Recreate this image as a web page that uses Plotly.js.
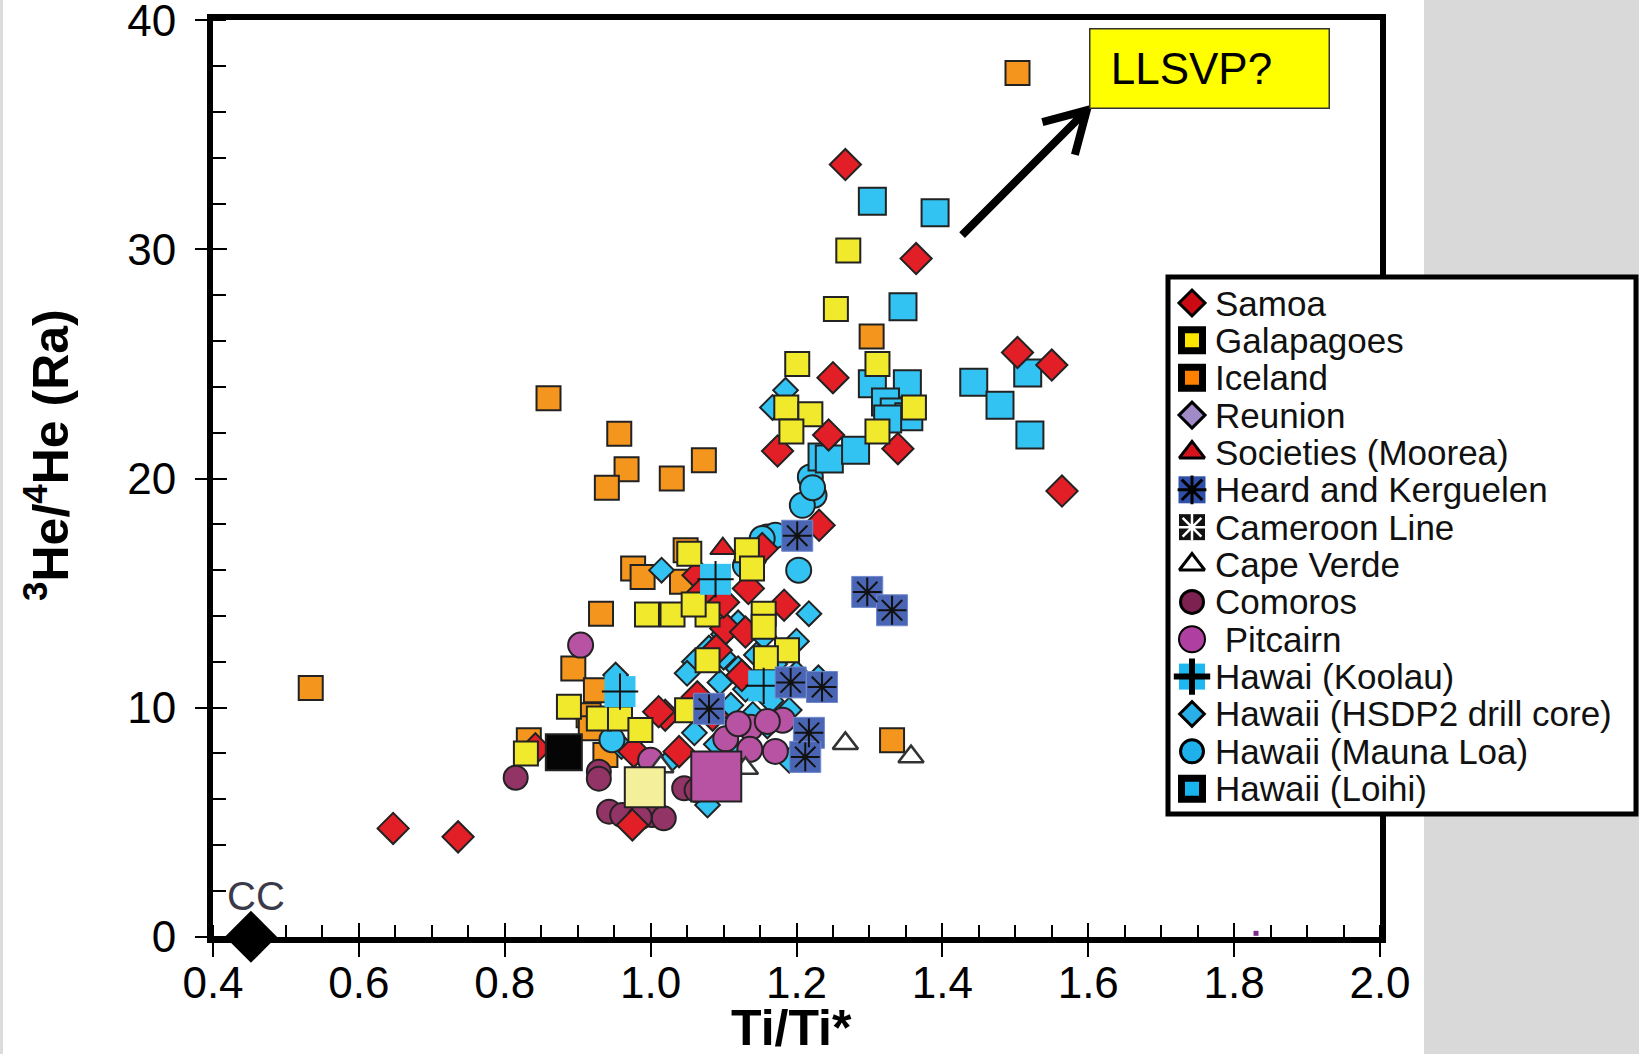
<!DOCTYPE html>
<html><head><meta charset="utf-8">
<script src="https://cdn.plot.ly/plotly-3.0.1.min.js"></script>
<style>html,body{margin:0;padding:0;background:#fff;}#chart{width:1639px;height:1054px;}</style>
</head><body><div id="chart"></div>
<script>
// ---------- DATA (Ti/Ti*, 3He/4He in Ra) ----------
const samoaX = [0.647,0.736,1.267,1.364,1.503,1.550,1.564,1.250,1.244,1.174,1.339,1.231,1.153,1.065,1.134,1.183,1.103,1.130,1.064,1.039,1.020,1.011,1.085,0.977,0.975,0.842,1.125,1.090,1.070,1.100];
const samoaY = [4.73,4.36,33.7,29.6,25.5,24.95,19.45,24.4,21.9,21.2,21.3,17.96,16.94,15.78,15.2,14.47,13.45,13.3,10.47,8.08,9.67,9.82,9.67,8.08,4.88,8.2,11.4,12.5,15.0,14.6];
const galapX = [1.271,1.254,1.201,1.311,1.186,1.219,1.193,1.311,1.361,1.053,1.132,1.139,0.995,1.030,1.078,1.059,1.155,1.155,1.078,1.187,1.158,0.888,0.929,0.958,0.986,0.829,1.050];
const galapY = [29.95,27.4,25.0,25.0,23.1,22.8,22.05,22.05,23.1,16.72,16.87,16.07,14.06,14.06,14.06,14.5,14.1,13.53,12.07,12.5,12.15,10.04,9.53,9.53,9.02,8.0,9.89];
const icelandX = [0.534,0.860,0.957,0.967,0.940,1.029,1.073,1.303,1.503,1.331,0.932,0.894,0.925,0.976,0.989,1.048,1.043,0.915,0.918,0.938,0.833];
const icelandY = [10.86,23.5,21.95,20.4,19.6,20.0,20.8,26.2,37.7,8.58,14.1,11.71,10.76,16.07,15.7,16.87,15.49,9.67,9.1,7.93,8.58];
const reunionX = [1.83];
const reunionY = [0.15];
const societiesX = [1.099];
const societiesY = [16.94];
const heardX = [1.201,1.297,1.331,1.192,1.235,1.080,1.217,1.212];
const heardY = [17.5,15.05,14.25,11.1,10.9,9.95,8.9,7.85];
const capeVerdeX = [1.014,1.130,1.267,1.357];
const capeVerdeY = [7.42,7.35,8.44,7.86];
const comorosX = [0.815,0.929,0.929,0.943,0.961,1.002,1.018,1.046,1.063,0.985];
const comorosY = [6.94,7.2,6.9,5.46,5.31,5.31,5.17,6.48,6.4,5.2];
const pitcairnX = [0.904,1.103,1.137,1.136,1.171,1.181,1.000,1.120,1.160];
const pitcairnY = [12.73,8.64,9.14,8.18,8.09,9.45,7.7,9.3,9.4];
const koolauX = [0.958,1.155,1.089];
const koolauY = [10.7,10.95,15.6];
const hsdpX = [1.015,0.952,1.217,0.960,1.078,1.185,1.167,1.080,1.100,1.120,1.095,1.130,1.070,1.110,1.140,1.165,1.190,1.060,1.090,1.120,1.200,1.230,1.100,1.120,1.060,1.145,1.170,1.085,1.030,1.190,1.050,1.155,1.200,1.000,1.160];
const hsdpY = [16.0,11.42,14.1,8.3,5.75,23.85,23.1,12.6,12.2,11.7,11.1,10.8,10.4,10.1,9.7,10.3,9.9,8.9,8.4,7.9,11.5,11.3,13.2,13.7,12.0,12.3,11.9,7.4,7.8,7.7,11.5,13.1,12.9,7.2,9.2];
const maunaLoaX = [1.219,1.224,1.208,1.222,1.160,1.171,1.153,1.203,1.142,0.947,1.130];
const maunaLoaY = [20.07,19.27,18.83,19.6,17.45,17.52,17.38,16.0,16.6,8.6,16.2];
const loihiX = [1.304,1.390,1.346,1.304,1.352,1.443,1.479,1.517,1.520,1.322,1.334,1.354,1.235,1.245,1.281,1.325];
const loihiY = [32.1,31.6,27.5,24.14,24.14,24.2,23.2,24.6,21.9,23.34,22.9,22.69,20.94,20.85,21.23,22.6];
// large average symbols
const avgX = [0.881,0.992,1.090];
const avgY = [8.05,6.52,6.99];
const ccX = [0.452];
const ccY = [0];
// arrow toward the LLSVP box (tail, tip)
const arrowX = [1.427, 1.598];
const arrowY = [30.62, 36.07];

const legendNames = ["Samoa","Galapagoes","Iceland","Reunion","Societies (Moorea)","Heard and Kerguelen","Cameroon Line","Cape Verde","Comoros","\u00a0Pitcairn","Hawai (Koolau)","Hawaii (HSDP2 drill core)","Hawaii (Mauna Loa)","Hawaii (Loihi)"];
const xTickVals = [0.4,0.6,0.8,1.0,1.2,1.4,1.6,1.8,2.0];
const xTickText = ["0.4","0.6","0.8","1.0","1.2","1.4","1.6","1.8","2.0"];
const yTickVals = [0,10,20,30,40];

// ---------- LAYOUT GEOMETRY ----------
const W = 1639, H = 1054;
const PL = 213, PR = 1380, PT = 20, PB = 937;
const XR = [0.4, 2.0], YR = [-0.01, 40.01];
const px = v => v / W, py = v => 1 - v / H;
const lightBlue = '#33c3f3', edge = '#222';
const FONT = 'Liberation Sans, Arial, sans-serif';

function pts(x, y, sym, color, size, lw, lc) {
  return {type:'scatter', mode:'markers', x:x, y:y, xaxis:'x', yaxis:'y', cliponaxis:false, showlegend:false, hoverinfo:'skip',
    marker:{symbol:sym, color:color, size:size, opacity:1, line:{width:lw, color:lc || edge}}};
}

const traces = [
  pts(icelandX, icelandY, 'square', '#f4961d', 24, 2),
  pts(hsdpX, hsdpY, 'diamond', lightBlue, 19, 2),
  pts(maunaLoaX, maunaLoaY, 'circle', lightBlue, 25, 2),
  pts(loihiX, loihiY, 'square', lightBlue, 27, 2),
  pts(comorosX, comorosY, 'circle', '#923466', 24, 2),
  pts(samoaX, samoaY, 'diamond', '#e21f26', 24, 2),
  pts(galapX, galapY, 'square', '#f1e92b', 24, 2),
  pts(societiesX, societiesY, 'triangle-up', '#e21f26', 22, 2),
  pts(koolauX, koolauY, 'square', lightBlue, 31, 0),
  pts(koolauX, koolauY, 'cross-thin-open', '#111', 26, 2, '#111'),
  pts(pitcairnX, pitcairnY, 'circle', '#b853a3', 25, 2),
  pts(capeVerdeX, capeVerdeY, 'triangle-up', '#ffffff', 22, 2.5, '#333'),
  pts(heardX, heardY, 'square', '#4a65b3', 31, 1, '#7088cc'),
  pts(heardX, heardY, 'asterisk-open', '#111', 24, 2, '#111'),
  pts(avgX, avgY, 'square', ['#050505','#f3ef9a','#b852a2'], [36,40,50], 2),
  pts(reunionX, reunionY, 'square', '#7b2d8e', 5, 0),
  pts(ccX, ccY, 'diamond', '#000000', 40, 0),
  {type:'scatter', x:[], y:[], xaxis:'x2', yaxis:'y2', showlegend:false}
];

// custom legend symbols (placed in a pixel-scaled subplot)
const legSym = ['diamond','square','square','diamond','triangle-up','square','square','triangle-up','circle','circle','square','diamond','circle','square'];
const legCol = ['#cc0a14','#ffe600','#ff8000','#a08ac8','#d4141c','#2f4fa8','#111111','#ffffff','#7d2150','#b03fa2','#1eb8f0','#2ab0e8','#1fb1ec','#18b4ee'];
const legSize = [20,21,21,20,22,27,26,22,23,26,26,19,23,21];
const legLW = [3,7,7,3,3,0,0,3,3,2,0,3,3,7];
const legX = legendNames.map(() => 1192);
const legY = legendNames.map((_, i) => 303 + 37.36 * i);
traces.push({type:'scatter', mode:'markers', x:legX, y:legY, xaxis:'x3', yaxis:'y3', cliponaxis:false, showlegend:false, hoverinfo:'skip',
  marker:{symbol:legSym, color:legCol, size:legSize, opacity:1, line:{width:legLW, color:'#000'}}});
const ovIdx = [5, 6, 10];
traces.push({type:'scatter', mode:'markers', x:ovIdx.map(i => legX[i]), y:ovIdx.map(i => legY[i]), xaxis:'x3', yaxis:'y3', cliponaxis:false, showlegend:false, hoverinfo:'skip',
  marker:{symbol:['asterisk-open','asterisk-open','cross-thin-open'], color:['#000','#fff','#000'], size:[24,22,26], opacity:1,
    line:{width:[3,2.5,6], color:['#000','#fff','#000']}}});

// arrow: shaft + open chevron head (head arm offsets given in screen pixels, converted with the axis scale)
const xPerPx = (XR[1] - XR[0]) / (PR - PL), yPerPx = (YR[1] - YR[0]) / (PB - PT);
const armLen = 46, ang = [105, 165].map(a => a * Math.PI / 180);
const arms = ang.map(a => [arrowX[1] + armLen * Math.cos(a) * xPerPx, arrowY[1] - armLen * Math.sin(a) * yPerPx]);
const arrowPath = `M${arrowX[0]},${arrowY[0]} L${arrowX[1]},${arrowY[1]} M${arms[0][0]},${arms[0][1]} L${arrowX[1]},${arrowY[1]} L${arms[1][0]},${arms[1][1]}`;

const tickFont = {family:FONT, size:44, color:'#000'};
const shapes = [
  {type:'rect', xref:'paper', yref:'paper', x0:px(1424), x1:1, y0:0, y1:1, fillcolor:'#d9d9d9', line:{width:0}, layer:'below'},
  {type:'rect', xref:'paper', yref:'paper', x0:0, x1:px(3), y0:0, y1:1, fillcolor:'#dcdcdc', line:{width:0}, layer:'below'},
  {type:'line', xref:'paper', yref:'paper', x0:px(PL-6), x1:px(PR+6), y0:py(PT-3), y1:py(PT-3), line:{width:6, color:'#000'}, layer:'below'},
  {type:'line', xref:'paper', yref:'paper', x0:px(PR+3), x1:px(PR+3), y0:py(PT-6), y1:py(PB+6), line:{width:6, color:'#000'}, layer:'below'},
  {type:'rect', xref:'paper', yref:'paper', x0:px(1168), x1:px(1636), y0:py(814), y1:py(277), fillcolor:'#ffffff', line:{width:5, color:'#000'}, layer:'below'},
  {type:'path', xref:'x', yref:'y', path:arrowPath, line:{width:8, color:'#000'}, layer:'above'}
];

const annotations = [
  {xref:'paper', yref:'paper', x:px(47), y:py(455), xanchor:'center', yanchor:'middle', textangle:-90, showarrow:false,
   text:'<sup>3</sup>He/<sup>4</sup>He (Ra)', font:{family:FONT, size:50, weight:'bold', color:'#000'}},
  {xref:'paper', yref:'paper', x:px(791), y:py(1028), xanchor:'center', yanchor:'middle', showarrow:false, text:'Ti/Ti*',
   font:{family:FONT, size:50, weight:'bold', color:'#000'}},
  {xref:'paper', yref:'paper', x:px(256), y:py(896), xanchor:'center', yanchor:'middle', showarrow:false, text:'CC',
   font:{family:'Liberation Sans Narrow, Liberation Sans, Arial, sans-serif', size:40, color:'#3a3a4a'}},
  {xref:'paper', yref:'paper', x:px(1209), y:py(69), xanchor:'center', yanchor:'middle', showarrow:false, text:'\u00a0LLSVP?', align:'left',
   width:222, height:62, borderpad:8, bgcolor:'#ffff00', bordercolor:'#333', borderwidth:1.5,
   font:{family:FONT, size:44, color:'#000'}}
];
legendNames.forEach((n, i) => annotations.push({xref:'paper', yref:'paper', x:px(1213), y:py(legY[i]), xanchor:'left', yanchor:'middle', showarrow:false,
  text:n, font:{family:FONT, size:35, color:'#111'}}));

const layout = {
  width:W, height:H, margin:{l:0, r:0, t:0, b:0, pad:0},
  paper_bgcolor:'#ffffff', plot_bgcolor:'rgba(0,0,0,0)', showlegend:false,
  xaxis:{domain:[px(PL), px(PR)], range:XR, anchor:'y', showgrid:false, zeroline:false, automargin:false,
    showline:true, linewidth:6, linecolor:'#000', layer:'below traces',
    tickmode:'array', tickvals:xTickVals, ticktext:xTickText, ticks:'outside', ticklen:14, tickwidth:2, tickcolor:'#000',
    ticklabelstandoff:-12, ticklabeloverflow:'allow', tickfont:tickFont,
    minor:{ticks:'inside', dtick:0.05, tick0:0.4, ticklen:12, tickwidth:2, tickcolor:'#000', showgrid:false}},
  yaxis:{domain:[py(PB), py(PT)], range:YR, anchor:'x', showgrid:false, zeroline:false, automargin:false,
    showline:true, linewidth:6, linecolor:'#000', layer:'below traces',
    tickmode:'array', tickvals:yTickVals, ticks:'outside', ticklen:12, tickwidth:2, tickcolor:'#000',
    ticklabelstandoff:10, ticklabeloverflow:'allow', tickfont:tickFont,
    minor:{ticks:'inside', dtick:2, tick0:0, ticklen:13, tickwidth:2, tickcolor:'#000', showgrid:false}},
  xaxis2:{overlaying:'x', anchor:'y', range:XR, showgrid:false, zeroline:false, showline:false, automargin:false,
    tickmode:'array', tickvals:xTickVals, ticks:'inside', ticklen:14, tickwidth:2, tickcolor:'#000', showticklabels:false},
  yaxis2:{overlaying:'y', anchor:'x', side:'left', range:YR, showgrid:false, zeroline:false, showline:false, automargin:false,
    tickmode:'array', tickvals:yTickVals, ticks:'inside', ticklen:14, tickwidth:2, tickcolor:'#000', showticklabels:false},
  xaxis3:{domain:[0,1], range:[0, W], anchor:'y3', visible:false, fixedrange:true},
  yaxis3:{domain:[0,1], range:[H, 0], anchor:'x3', visible:false, fixedrange:true},
  shapes:shapes, annotations:annotations
};

Plotly.newPlot('chart', traces, layout, {staticPlot:true, displayModeBar:false});
</script></body></html>
